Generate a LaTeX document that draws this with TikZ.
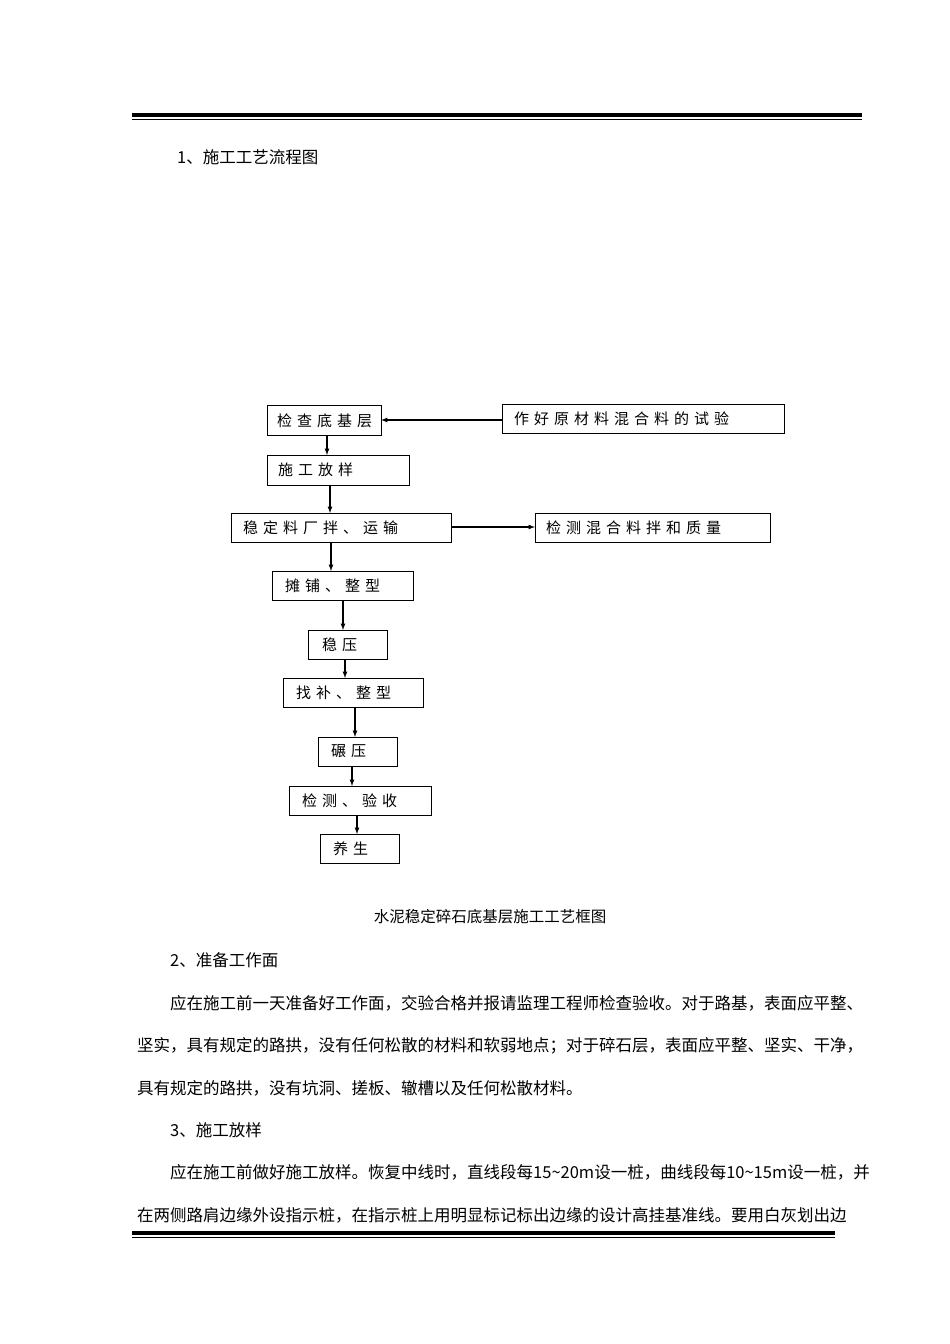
\documentclass[tikz,border=0pt]{standalone}
\usepackage{fontspec}
\setmainfont{Noto Sans CJK SC}
\def\spaced#1{\ifx#1\relax\else#1\hspace{5pt}\expandafter\spaced\fi}
\def\sp#1{\spaced#1\relax}
\begin{document}
\begin{tikzpicture}[x=1pt,y=-1pt,
  bx/.style={draw,line width=0.9pt},
  bt/.style={anchor=west,font=\fontsize{15}{15}\selectfont,inner sep=0},
  ar/.style={-latex,line width=1.2pt},
  tx/.style={anchor=west,font=\fontsize{16.5}{16.5}\selectfont,inner sep=0}]
\useasboundingbox (0,0) rectangle (950,1344);
\fill (132,113) rectangle (862,117);
\draw[line width=1pt] (132,119) -- (862,119);
\fill (132,1231) rectangle (835,1235);
\draw[line width=1pt] (132,1237) -- (835,1237);
\node[tx] (h1) at (177,157) {1、施工工艺流程图};
% boxes
\draw[bx] (267,405) rectangle (381,435) coordinate (b1);
\node[bt] (t1) at (277,421) {\sp{检查底基层}};
\draw[bx] (502,404) rectangle (784,433);
\node[bt] (t2) at (514,419) {\sp{作好原材料混合料的试验}};
\draw[bx] (267,455) rectangle (409,485);
\node[bt] (t3) at (278,470) {\sp{施工放样}};
\draw[bx] (231,513) rectangle (451,542);
\node[bt] (t4) at (243,528) {\sp{稳定料厂拌、运输}};
\draw[bx] (535,513) rectangle (770,542);
\node[bt] (t5) at (546,528) {\sp{检测混合料拌和质量}};
\draw[bx] (272,571) rectangle (413,600);
\node[bt] (t6) at (285,586) {\sp{摊铺、整型}};
\draw[bx] (308,630) rectangle (387,659);
\node[bt] (t7) at (322,645) {\sp{稳压}};
\draw[bx] (283,678) rectangle (423,707);
\draw[line width=1.5pt] (284,707.5) -- (423.5,707.5) -- (423.5,678);
\node[bt] (t8) at (296,693) {\sp{找补、整型}};
\draw[bx] (318,737) rectangle (397,766);
\node[bt] (t9) at (331,751) {\sp{碾压}};
\draw[bx] (289,786) rectangle (431,815);
\node[bt] (t10) at (302,801) {\sp{检测、验收}};
\draw[bx] (320,834) rectangle (399,863);
\node[bt] (t11) at (333,849) {\sp{养生}};
% arrows
\draw[ar] (502,420) -- (381,420);
\draw[ar] (451,527) -- (535,527);
\draw[ar] (327,435) -- (327,455);
\draw[ar] (330,485) -- (330,513);
\draw[ar] (331,542) -- (331,571);
\draw[ar] (343,600) -- (343,630);
\draw[ar] (345,659) -- (345,678);
\draw[ar] (355,707) -- (355,737);
\draw[ar] (352,766) -- (352,786);
\draw[ar] (357,815) -- (357,834);
% text
\node[font=\fontsize{15.5}{15.5}\selectfont,inner sep=0] (cap) at (490,917) {水泥稳定碎石底基层施工工艺框图};
\node[tx] (h2) at (170,960) {2、准备工作面};
\node[tx] (p1) at (170,1003) {应在施工前一天准备好工作面，交验合格并报请监理工程师检查验收。对于路基，表面应平整、};
\node[tx] (p2) at (137,1046) {坚实，具有规定的路拱，没有任何松散的材料和软弱地点；对于碎石层，表面应平整、坚实、干净，};
\node[tx] (p3) at (137,1088) {具有规定的路拱，没有坑洞、搓板、辙槽以及任何松散材料。};
\node[tx] (h3) at (170,1130) {3、施工放样};
\node[tx] (p4) at (170,1172) {应在施工前做好施工放样。恢复中线时，直线段每15\textasciitilde20m设一桩，曲线段每10\textasciitilde15m设一桩，并};
\node[tx] (p5) at (137,1215) {在两侧路肩边缘外设指示桩，在指示桩上用明显标记标出边缘的设计高挂基准线。要用白灰划出边};
\end{tikzpicture}
\end{document}
